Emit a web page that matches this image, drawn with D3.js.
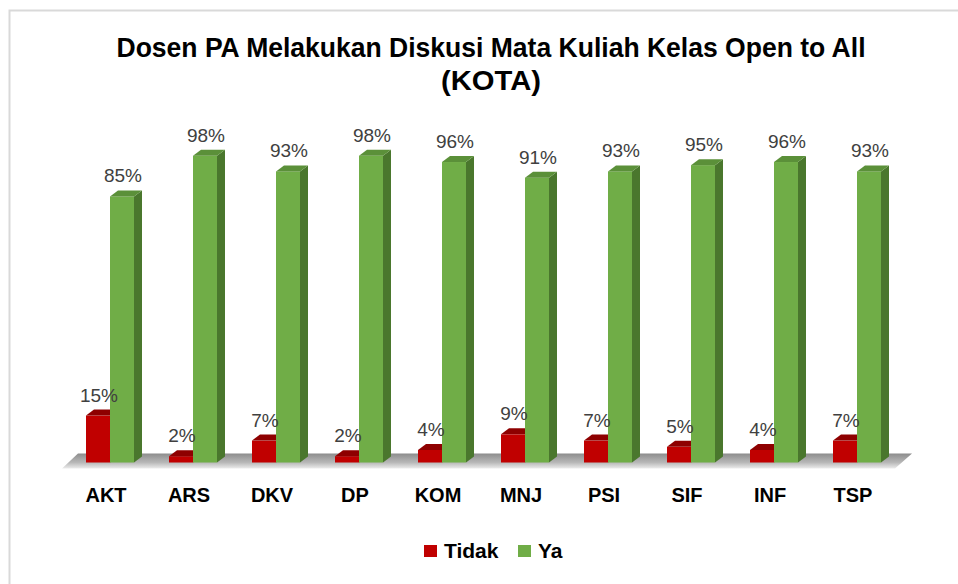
<html>
<head>
<meta charset="utf-8">
<style>
  body { margin: 0; background: #fff; }
  text { font-family: "Liberation Sans", Arial, sans-serif; }
</style>
</head>
<body>
<script src="https://d3js.org/d3.v7.min.js"></script>
<div id="main"></div>
<script>
  // data
  var categories = ["AKT", "ARS", "DKV", "DP", "KOM", "MNJ", "PSI", "SIF", "INF", "TSP"];
  var tidak = [15, 2, 7, 2, 4, 9, 7, 5, 4, 7];
  var ya = [85, 98, 93, 98, 96, 91, 93, 95, 96, 93];
  var seriesNames = ["Tidak", "Ya"];

  var W = 958, H = 584;
  var depthX = 8, depthY = -6;

  var colors = {
    Tidak: { front: "#c00000", top: "#8e0000", side: "#7a0000" },
    Ya: { front: "#70ad47", top: "#5b9039", side: "#4a772d" }
  };

  var svg = d3.select("#main").append("svg")
    .attr("width", W).attr("height", H);

  // frame
  svg.append("rect").attr("width", W).attr("height", H).attr("fill", "#fff");
  svg.append("path")
    .attr("d", "M9.5," + H + "V10.5H" + W)
    .attr("fill", "none").attr("stroke", "#d9d9d9").attr("stroke-width", 2);

  // title
  var title = svg.append("text")
    .attr("text-anchor", "middle")
    .style("font-weight", "bold").style("font-size", "27px").attr("fill", "#000");
  title.append("tspan").attr("x", 491).attr("y", 57)
    .attr("textLength", 749).attr("lengthAdjust", "spacingAndGlyphs")
    .text("Dosen PA Melakukan Diskusi Mata Kuliah Kelas Open to All");
  title.append("tspan").attr("x", 491).attr("y", 90)
    .attr("textLength", 100).attr("lengthAdjust", "spacingAndGlyphs")
    .text("(KOTA)");

  // scales
  var x = d3.scaleBand().domain(categories).range([68.5, 898.5]).padding(0);
  var xs = d3.scaleBand().domain(seriesNames).range([-24, 24]);
  var y = d3.scaleLinear().domain([0, 100]).range([462.5, 149.5]);

  // floor
  var defs = svg.append("defs");
  var grad = defs.append("linearGradient").attr("id", "floorGrad")
    .attr("x1", 0).attr("y1", 0).attr("x2", 0).attr("y2", 1);
  grad.append("stop").attr("offset", "0%").attr("stop-color", "#8c8c8c");
  grad.append("stop").attr("offset", "60%").attr("stop-color", "#b8b8b8");
  grad.append("stop").attr("offset", "100%").attr("stop-color", "#ececec");

  var y0 = y(0);
  svg.append("path")
    .attr("d", "M62," + (y0 + 6) + "L78," + (y0 - 9) + "L912," + (y0 - 9) + "L895," + (y0 + 6) + "Z")
    .attr("fill", "url(#floorGrad)");

  // bars
  var rows = categories.map(function (c, i) {
    return { cat: c, values: [{ key: "Tidak", v: tidak[i] }, { key: "Ya", v: ya[i] }] };
  });

  var g = svg.append("g");
  rows.forEach(function (r) {
    r.values.forEach(function (d) {
      var cx = x(r.cat) + x.bandwidth() / 2;
      var x0 = cx + xs(d.key), x1 = x0 + xs.bandwidth();
      var yt = y(d.v);
      var col = colors[d.key];
      // side
      g.append("path")
        .attr("d", "M" + x1 + "," + y0 + "L" + (x1 + depthX) + "," + (y0 + depthY) +
          "L" + (x1 + depthX) + "," + (yt + depthY) + "L" + x1 + "," + yt + "Z")
        .attr("fill", col.side);
      // front
      g.append("rect")
        .attr("x", x0).attr("y", yt)
        .attr("width", x1 - x0).attr("height", y0 - yt)
        .attr("fill", col.front);
      // top
      g.append("path")
        .attr("d", "M" + x0 + "," + yt + "L" + (x0 + depthX) + "," + (yt + depthY) +
          "L" + (x1 + depthX) + "," + (yt + depthY) + "L" + x1 + "," + yt + "Z")
        .attr("fill", col.top);
    });
  });

  // value labels
  rows.forEach(function (r) {
    r.values.forEach(function (d) {
      var cx = x(r.cat) + x.bandwidth() / 2 + xs(d.key) + xs.bandwidth() / 2 + 1;
      svg.append("text")
        .attr("x", cx).attr("y", y(d.v) - 14)
        .attr("text-anchor", "middle")
        .style("font-size", "19px").attr("fill", "#404040")
        .text(d.v + "%");
    });
  });

  // category axis labels
  svg.append("g").selectAll("text")
    .data(categories).enter().append("text")
    .attr("x", function (d) { return x(d) + x.bandwidth() / 2 - 4; })
    .attr("y", 502)
    .attr("text-anchor", "middle")
    .style("font-size", "20px").style("font-weight", "bold").attr("fill", "#000")
    .text(function (d) { return d; });

  // legend
  var legendX = [424, 518];
  var legend = svg.append("g");
  seriesNames.forEach(function (s, i) {
    legend.append("rect")
      .attr("x", legendX[i]).attr("y", 545)
      .attr("width", 13).attr("height", 12)
      .attr("fill", colors[s].front);
    legend.append("text")
      .attr("x", legendX[i] + 20).attr("y", 557.5)
      .style("font-size", "21px").style("font-weight", "bold").attr("fill", "#000")
      .text(s);
  });
</script>
</body>
</html>
